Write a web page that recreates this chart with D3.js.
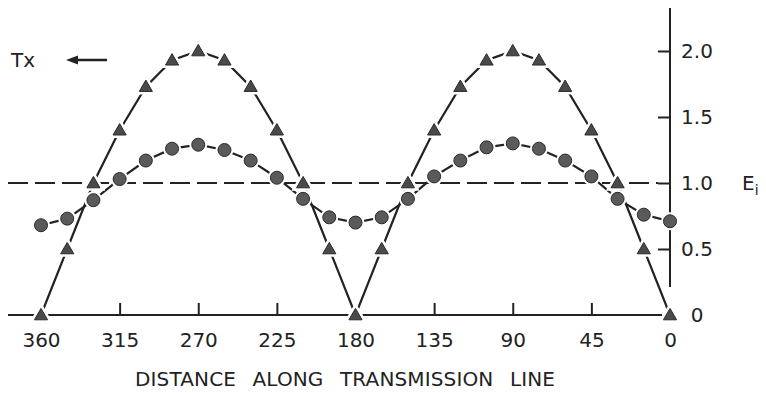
<!DOCTYPE html>
<html>
<head>
<meta charset="utf-8">
<script src="https://cdn.jsdelivr.net/npm/d3@7"></script>
<style>
  body { margin: 0; background: #fff; }
  text { font-family: "DejaVu Sans", sans-serif; fill: #222; }
</style>
</head>
<body>
<div id="vis"></div>
<script>
// distance along the line, degrees (plotted right to left)
const degrees = [360, 345, 330, 315, 300, 285, 270, 255, 240, 225, 210, 195, 180,
                 165, 150, 135, 120, 105, 90, 75, 60, 45, 30, 15, 0];

// triangles: standing wave on the line
const triValues = [0, 0.5, 1.0, 1.4, 1.73, 1.93, 2.0, 1.93, 1.73, 1.4, 1.0, 0.5, 0,
                   0.5, 1.0, 1.4, 1.73, 1.93, 2.0, 1.93, 1.73, 1.4, 1.0, 0.5, 0];

// circles: partial standing wave
const dotValues = [0.68, 0.73, 0.87, 1.03, 1.17, 1.26, 1.29, 1.25, 1.17, 1.04, 0.88, 0.74, 0.7,
                   0.74, 0.88, 1.05, 1.17, 1.27, 1.3, 1.26, 1.17, 1.05, 0.88, 0.76, 0.71];

const xTicks = [360, 315, 270, 225, 180, 135, 90, 45, 0];
const yTicks = [0, 0.5, 1.0, 1.5, 2.0];

const W = 766, H = 393;

let svg = d3.select("#vis")
  .append("svg")
  .attr("width", W)
  .attr("height", H)
  .style("background-color", "white");

let x = d3.scaleLinear().domain([360, 0]).range([41, 670]);
let y = d3.scaleLinear().domain([0, 2]).range([315, 51]);

const ink = "#222";

// x axis line, extends past the 360 mark
svg.append("line")
  .attr("x1", 8).attr("x2", x(0) - 8)
  .attr("y1", y(0)).attr("y2", y(0))
  .attr("stroke", ink).attr("stroke-width", 2);

let xAxis = svg.append("g")
  .attr("transform", `translate(0,${y(0)})`)
  .call(d3.axisBottom(x).tickValues(xTicks).tickSizeInner(-12).tickSizeOuter(0).tickPadding(18));
xAxis.select(".domain").remove();
xAxis.selectAll(".tick line")
  .attr("stroke", ink).attr("stroke-width", 2)
  .filter(d => d % 180 === 0).remove();
xAxis.selectAll(".tick text")
  .style("font-family", "DejaVu Sans, sans-serif")
  .style("font-size", "20px")
  .attr("fill", ink);

// right-hand y axis
svg.append("line")
  .attr("x1", x(0)).attr("x2", x(0))
  .attr("y1", 8).attr("y2", 287)
  .attr("stroke", ink).attr("stroke-width", 2);

let yAxis = svg.append("g")
  .attr("transform", `translate(${x(0)},0)`)
  .call(d3.axisRight(y).tickValues(yTicks).tickSizeInner(-12).tickSizeOuter(0)
    .tickFormat(d => d === 0 ? "0" : d3.format(".1f")(d)));
yAxis.select(".domain").remove();
yAxis.selectAll(".tick line")
  .attr("stroke", ink).attr("stroke-width", 2)
  .filter(d => d === 0).remove();
yAxis.selectAll(".tick text")
  .attr("x", 27)
  .attr("text-anchor", "middle")
  .style("font-family", "DejaVu Sans, sans-serif")
  .style("font-size", "20px")
  .attr("fill", ink);

// E_i label
let ei = svg.append("text")
  .attr("x", 742).attr("y", y(1) + 7)
  .style("font-size", "20px");
ei.append("tspan").text("E");
ei.append("tspan").attr("dy", 5).style("font-size", "14px").text("i");

// reference line at 1.0
svg.append("line")
  .attr("x1", 8).attr("x2", x(0) - 12)
  .attr("y1", y(1)).attr("y2", y(1))
  .attr("stroke", ink).attr("stroke-width", 2)
  .attr("stroke-dasharray", "20,7");

// Tx arrow
svg.append("text")
  .attr("x", 11).attr("y", 67)
  .style("font-size", "20px")
  .text("Tx");
svg.append("line")
  .attr("x1", 74).attr("x2", 107)
  .attr("y1", 60).attr("y2", 60)
  .attr("stroke", ink).attr("stroke-width", 2.5);
svg.append("path")
  .attr("d", "M66,60 L78,55.5 L78,64.5 Z")
  .attr("fill", ink);

let line = d3.line()
  .x(d => x(d[0]))
  .y(d => y(d[1]));

const triData = degrees.map((d, i) => [d, triValues[i]]);
const dotData = degrees.map((d, i) => [d, dotValues[i]]);

svg.append("path")
  .datum(triData)
  .attr("d", line)
  .attr("fill", "none")
  .attr("stroke", ink)
  .attr("stroke-width", 2.2);

svg.append("path")
  .datum(dotData)
  .attr("d", line)
  .attr("fill", "none")
  .attr("stroke", ink)
  .attr("stroke-width", 2.2);

let tri = d3.symbol().type(d3.symbolTriangle).size(75);

// white halo behind circles gives the gap where the line meets the mark
svg.append("g").selectAll("circle")
  .data(dotData)
  .join("circle")
  .attr("cx", d => x(d[0]))
  .attr("cy", d => y(d[1]))
  .attr("r", 9)
  .attr("fill", "white");

svg.append("g").selectAll("circle")
  .data(dotData)
  .join("circle")
  .attr("cx", d => x(d[0]))
  .attr("cy", d => y(d[1]))
  .attr("r", 6.5)
  .attr("fill", "#5a5a5a")
  .attr("stroke", "#2a2a2a")
  .attr("stroke-width", 1);

// triangles
svg.append("g").selectAll("path")
  .data(triData)
  .join("path")
  .attr("transform", d => `translate(${x(d[0])},${y(d[1]) + 1})`)
  .attr("d", tri)
  .attr("fill", "white")
  .attr("stroke", "white")
  .attr("stroke-width", 6);

svg.append("g").selectAll("path")
  .data(triData)
  .join("path")
  .attr("transform", d => `translate(${x(d[0])},${y(d[1]) + 1})`)
  .attr("d", tri)
  .attr("fill", "#4a4a4a")
  .attr("stroke", "#2a2a2a")
  .attr("stroke-width", 1);

// axis title
svg.append("text")
  .attr("x", 135).attr("y", 386)
  .attr("textLength", 420)
  .attr("lengthAdjust", "spacing")
  .style("font-size", "20px")
  .style("word-spacing", "10px")
  .text("DISTANCE ALONG TRANSMISSION LINE");
</script>
</body>
</html>
